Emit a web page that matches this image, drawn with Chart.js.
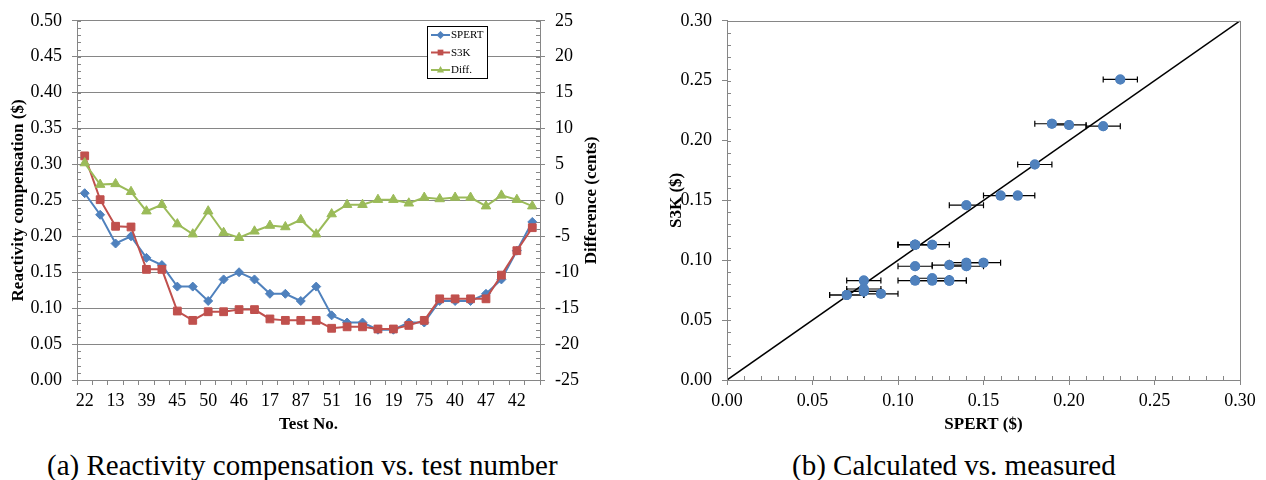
<!DOCTYPE html>
<html><head><meta charset="utf-8">
<script src="https://cdn.jsdelivr.net/npm/chart.js@4/dist/chart.umd.min.js"></script>
<style>
html,body{margin:0;padding:0;background:#fff;width:1266px;height:480px;overflow:hidden;position:relative;}
#c1{position:absolute;left:0;top:0;}
#c2{position:absolute;left:630px;top:0;}
.cap{position:absolute;font-family:"Liberation Serif","Times New Roman",serif;font-size:29px;color:#000;white-space:nowrap;line-height:32px;}
</style></head><body>
<canvas id="c1" width="620" height="440"></canvas>
<canvas id="c2" width="636" height="440"></canvas>
<div class="cap" style="left:47px;top:449px">(a) Reactivity compensation vs. test number</div>
<div class="cap" style="left:792px;top:449px">(b) Calculated vs. measured</div>
<script>
// ---- data ----
const tickLabels = ['22','13','39','45','50','46','17','87','51','16','19','75','40','47','42'];
const spert = [0.26,0.23,0.19,0.20,0.17,0.16,0.13,0.13,0.11,0.14,0.15,0.14,0.12,0.12,0.11,0.13,0.09,0.08,0.08,0.07,0.07,0.08,0.08,0.11,0.11,0.11,0.12,0.14,0.18,0.22];
const s3k = [0.312,0.251,0.214,0.213,0.154,0.154,0.096,0.083,0.095,0.095,0.098,0.098,0.085,0.083,0.083,0.083,0.072,0.074,0.074,0.071,0.071,0.076,0.083,0.113,0.113,0.113,0.113,0.146,0.180,0.212];
const diff = [5.2,2.2,2.3,1.2,-1.5,-0.6,-3.3,-4.7,-1.5,-4.5,-5.2,-4.3,-3.5,-3.7,-2.7,-4.7,-1.9,-0.6,-0.6,0.1,0.1,-0.4,0.4,0.2,0.4,0.4,-0.8,0.7,0.1,-0.8];
const spertErr = [0.01,0.01,0.01,0.01,0.01,0.01,0.01,0.01,0.01,0.01,0.01,0.01,0.01,0.01,0.01,0.01,0.01,0.01,0.01,0.01,0.01,0.01,0.01,0.01,0.01,0.01,0.01,0.01,0.01,0.01];
const diagLine = [0, 0.30];

// ---- style ----
const AX = '#868686';
const SERIF = '"Liberation Serif","Times New Roman",serif';
const tickFont = {family: SERIF, size: 18};
const titleFont = {family: SERIF, size: 17, weight: 'bold'};
const BLUE = '#4F81BD', RED = '#C0504D', GREEN = '#9BBB59';

const categories = spert.map((_, i) => i % 2 === 0 ? tickLabels[i / 2] : '');

const minorTicks = {
  id: 'minorTicks',
  afterDraw(chart, args, opts) {
    const ctx = chart.ctx;
    ctx.save();
    ctx.strokeStyle = AX; ctx.lineWidth = 1;
    for (const m of (opts.axes || [])) {
      const s = chart.scales[m.id];
      const n = Math.round((s.max - s.min) / m.step);
      for (let k = 0; k <= n; k++) {
        const v = s.min + k * m.step;
        const p = Math.round(s.getPixelForValue(v)) + 0.5;
        ctx.beginPath();
        if (s.isHorizontal()) { ctx.moveTo(p, s.top); ctx.lineTo(p, s.top - m.len); }
        else if (s.position === 'left') { ctx.moveTo(s.right, p); ctx.lineTo(s.right + m.len, p); }
        else { ctx.moveTo(s.left, p); ctx.lineTo(s.left - m.len, p); }
        ctx.stroke();
      }
    }
    ctx.restore();
  }
};

const sideTitle = {
  id: 'sideTitle',
  afterDraw(chart, args, o) {
    if (!o.text) return;
    const ctx = chart.ctx;
    const s = chart.scales[o.axis];
    ctx.save();
    ctx.font = 'bold 17px ' + SERIF;
    ctx.fillStyle = '#000';
    ctx.textAlign = 'center'; ctx.textBaseline = 'middle';
    ctx.translate(s.right - o.offset, (s.top + s.bottom) / 2);
    ctx.rotate(-Math.PI / 2);
    ctx.fillText(o.text, 0, 0);
    ctx.restore();
  }
};

function marker(ctx, style, x, y, r) {
  ctx.beginPath();
  if (style === 'rectRot') { ctx.moveTo(x, y - r); ctx.lineTo(x + r, y); ctx.lineTo(x, y + r); ctx.lineTo(x - r, y); }
  else if (style === 'rect') { ctx.rect(x - r * 0.72, y - r * 0.72, r * 1.44, r * 1.44); }
  else { ctx.moveTo(x, y - r); ctx.lineTo(x + r * 0.9, y + r * 0.6); ctx.lineTo(x - r * 0.9, y + r * 0.6); }
  ctx.closePath(); ctx.fill();
}

const legendBox = {
  id: 'legendBox',
  afterDraw(chart, args, o) {
    const ctx = chart.ctx;
    ctx.save();
    ctx.fillStyle = '#fff'; ctx.fillRect(o.x, o.y, o.w, o.h);
    ctx.strokeStyle = '#000'; ctx.lineWidth = 1; ctx.strokeRect(o.x + 0.5, o.y + 0.5, o.w, o.h);
    ctx.font = '11px ' + SERIF; ctx.textBaseline = 'middle'; ctx.textAlign = 'left';
    chart.data.datasets.forEach((ds, i) => {
      const cy = o.y + o.rowTop + i * o.rowH;
      ctx.strokeStyle = ds.borderColor; ctx.lineWidth = 2;
      ctx.beginPath(); ctx.moveTo(o.x + 4, cy); ctx.lineTo(o.x + 23, cy); ctx.stroke();
      ctx.fillStyle = ds.backgroundColor;
      marker(ctx, ds.pointStyle, o.x + 13.5, cy, 4);
      ctx.fillStyle = '#000';
      ctx.fillText(ds.label, o.x + 24, cy + 0.5);
    });
    ctx.restore();
  }
};

const plotBorder = {
  id: 'plotBorder',
  afterDraw(chart) {
    const a = chart.chartArea, ctx = chart.ctx;
    ctx.save(); ctx.strokeStyle = AX; ctx.lineWidth = 1;
    ctx.strokeRect(Math.round(a.left) + 0.5, Math.round(a.top) + 0.5, Math.round(a.right - a.left), Math.round(a.bottom - a.top));
    ctx.restore();
  }
};

const errorBars = {
  id: 'errorBars',
  afterDatasetsDraw(chart, args, o) {
    const ctx = chart.ctx, xs = chart.scales.x, ys = chart.scales.y, a = chart.chartArea;
    const pts = chart.data.datasets[o.dataset].data;
    ctx.save();
    ctx.beginPath(); ctx.rect(a.left, a.top, a.right - a.left, a.bottom - a.top); ctx.clip();
    ctx.strokeStyle = '#000'; ctx.lineWidth = 1.2;
    pts.forEach((p, i) => {
      if (p.y > ys.max || p.x > xs.max) return;
      const e = o.err[i];
      const x1 = xs.getPixelForValue(p.x - e), x2 = xs.getPixelForValue(p.x + e), y = ys.getPixelForValue(p.y);
      ctx.beginPath();
      ctx.moveTo(x1, y); ctx.lineTo(x2, y);
      ctx.moveTo(x1, y - 3); ctx.lineTo(x1, y + 3);
      ctx.moveTo(x2, y - 3); ctx.lineTo(x2, y + 3);
      ctx.stroke();
    });
    ctx.restore();
    // redraw markers on top of the bars
    chart.getDatasetMeta(o.dataset).controller.draw();
  }
};

Chart.defaults.font.family = SERIF;
Chart.defaults.color = '#000';

new Chart(document.getElementById('c1'), {
  type: 'line',
  data: {
    labels: categories,
    datasets: [
      {label: 'SPERT', data: spert, yAxisID: 'y', borderColor: BLUE, backgroundColor: BLUE, pointStyle: 'rectRot', pointRadius: 4.5, pointBorderWidth: 1, borderWidth: 2, order: 3},
      {label: 'S3K', data: s3k, yAxisID: 'y', borderColor: RED, backgroundColor: RED, pointStyle: 'rect', pointRadius: 5.5, pointBorderWidth: 1, borderWidth: 2, order: 2},
      {label: 'Diff.', data: diff, yAxisID: 'y2', borderColor: GREEN, backgroundColor: GREEN, pointStyle: 'triangle', pointRadius: 5.5, pointBorderWidth: 1, borderWidth: 2, order: 1}
    ]
  },
  options: {
    responsive: false, animation: false, events: [],
    layout: {padding: {top: 12, right: 0, bottom: 0, left: 0}},
    plugins: {
      legend: {display: false}, tooltip: {enabled: false},
      minorTicks: {axes: [{id: 'y', step: 0.01, len: 4}, {id: 'y2', step: 1, len: 4}]},
      sideTitle: {axis: 'y2', text: 'Difference (cents)', offset: 28},
      legendBox: {x: 427, y: 26, w: 60, h: 52, rowTop: 9, rowH: 17.5}
    },
    scales: {
      x: {
        offset: true,
        grid: {display: true, drawOnChartArea: false, drawTicks: true, tickLength: 5, color: AX, offset: true},
        border: {color: AX, width: 1},
        ticks: {autoSkip: false, maxRotation: 0, minRotation: 0, padding: 5, font: tickFont, color: '#000'},
        title: {display: true, text: 'Test No.', font: titleFont, color: '#000', padding: {top: 0, bottom: 5}},
        afterFit: s => { s.height = 60; }
      },
      y: {
        position: 'left', min: 0, max: 0.5,
        grid: {color: AX, tickLength: 5, lineWidth: 1},
        border: {color: AX, width: 1},
        ticks: {stepSize: 0.05, padding: 10, font: tickFont, color: '#000', callback: v => Number(v).toFixed(2)},
        title: {display: true, text: 'Reactivity compensation ($)', font: titleFont, color: '#000', padding: {top: 8, bottom: 0}},
        afterFit: s => { s.width = 77; }
      },
      y2: {
        position: 'right', min: -25, max: 25,
        grid: {drawOnChartArea: false, color: AX, tickLength: 5},
        border: {color: AX, width: 1},
        ticks: {stepSize: 5, padding: 10, font: tickFont, color: '#000'},
        afterFit: s => { s.width = 80; }
      }
    }
  },
  plugins: [minorTicks, sideTitle, legendBox]
});

const scatterPts = spert.map((x, i) => ({x: x, y: s3k[i]}));

new Chart(document.getElementById('c2'), {
  type: 'scatter',
  data: {
    datasets: [
      {type: 'line', label: 'diag', data: diagLine.map(v => ({x: v, y: v})), borderColor: '#000', borderWidth: 1.5, pointRadius: 0, order: 2},
      {type: 'scatter', label: 'S3K', data: scatterPts, backgroundColor: BLUE, borderColor: BLUE, pointRadius: 5, pointBorderWidth: 0, order: 1}
    ]
  },
  options: {
    responsive: false, animation: false, events: [],
    layout: {padding: {top: 12, right: 26, bottom: 0, left: 0}},
    plugins: {
      legend: {display: false}, tooltip: {enabled: false},
      minorTicks: {axes: [{id: 'x', step: 0.01, len: 4}, {id: 'y', step: 0.01, len: 4}]},
      errorBars: {dataset: 1, err: spertErr}
    },
    scales: {
      x: {
        type: 'linear', min: 0, max: 0.3,
        grid: {display: true, drawOnChartArea: false, tickLength: 5, color: AX},
        border: {color: AX, width: 1},
        ticks: {stepSize: 0.05, padding: 5, font: tickFont, color: '#000', maxRotation: 0, callback: v => Number(v).toFixed(2)},
        title: {display: true, text: 'SPERT ($)', font: titleFont, color: '#000', padding: {top: 0, bottom: 5}},
        afterFit: s => { s.height = 60; }
      },
      y: {
        type: 'linear', min: 0, max: 0.3,
        grid: {display: true, drawOnChartArea: false, tickLength: 5, color: AX},
        border: {color: AX, width: 1},
        ticks: {stepSize: 0.05, padding: 10, font: tickFont, color: '#000', callback: v => Number(v).toFixed(2)},
        title: {display: true, text: 'S3K ($)', font: titleFont, color: '#000', padding: {top: 36, bottom: 0}},
        afterFit: s => { s.width = 97; }
      }
    }
  },
  plugins: [minorTicks, plotBorder, errorBars]
});
</script>
</body></html>
